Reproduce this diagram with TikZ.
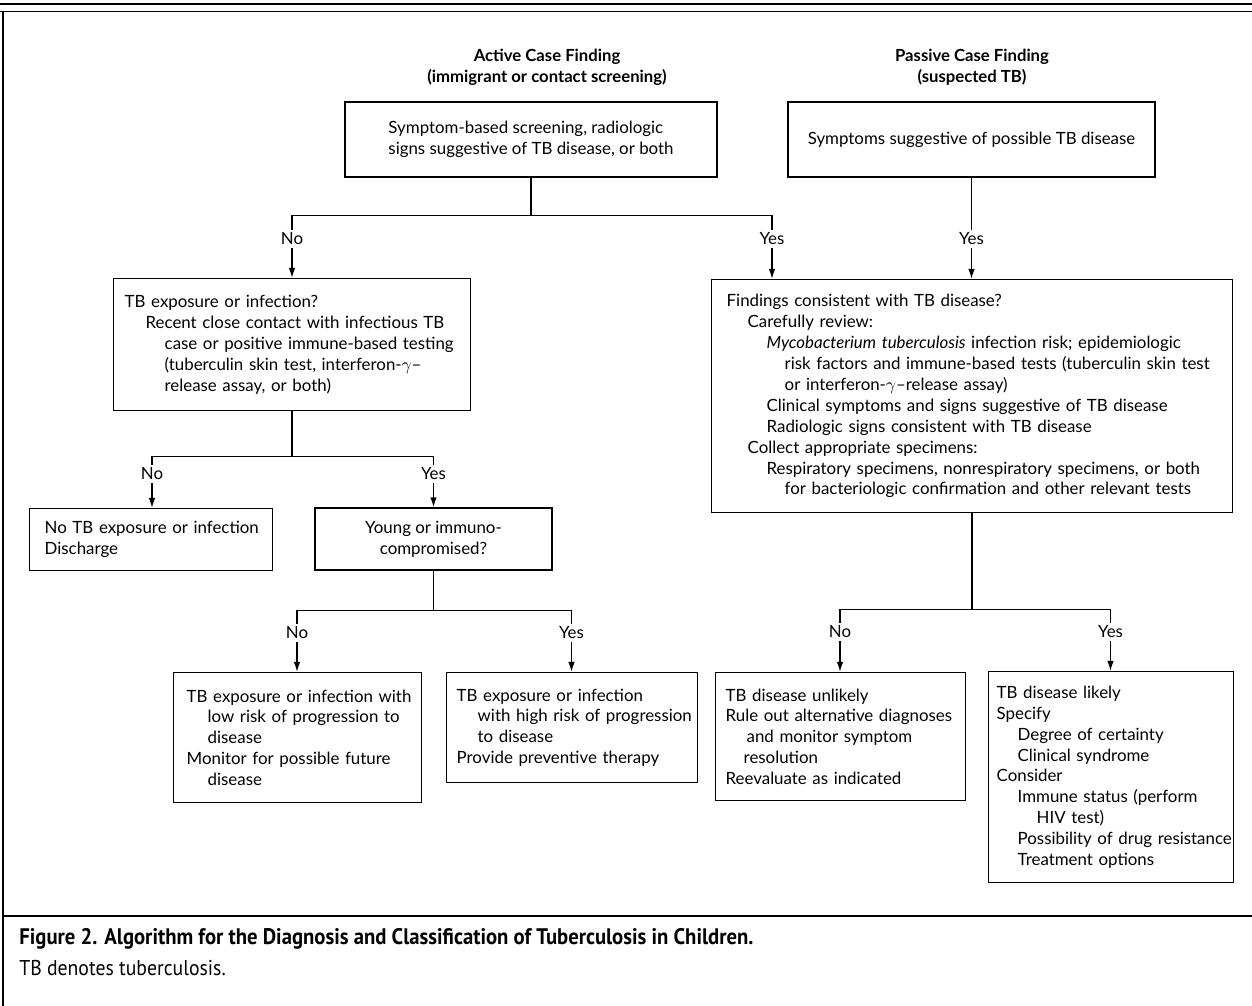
\documentclass[tikz,border=0pt]{standalone}
\usepackage{fontspec}
\setmainfont{Lato}
\newfontfamily\capfont[FakeStretch=0.92]{PT Sans}
\usetikzlibrary{positioning, arrows.meta, calc}
\newcommand{\ia}{\hspace*{0.42cm}}
\newcommand{\ib}{\hspace*{0.80cm}}
\newcommand{\ic}{\hspace*{1.16cm}}

\begin{document}
\begin{tikzpicture}[
      x=0.02cm, y=-0.02cm,
      every node/.style={font=\fontsize{9.6}{11.9}\selectfont},
      tbbox/.style={draw, line width=0.8pt, anchor=north west, align=left, inner ysep=0pt},
      cbox/.style={draw, line width=0.8pt, anchor=center, inner ysep=0pt},
      answer/.style={inner sep=1.5pt},
      head/.style={align=center, font=\fontsize{9.5}{12}\selectfont\bfseries},
      link/.style={line width=0.8pt},
      >={Latex[length=2mm,width=1.3mm]},
    ]
    \useasboundingbox (0,0) rectangle (1252,1006);

    % frame
    \draw[line width=1.6pt] (0,4) -- (1252,4);
    \draw[line width=0.9pt] (0,11.5) -- (1252,11.5);
    \draw[line width=0.9pt] (3,11.5) -- (3,1006);
    \draw[line width=0.9pt] (3,916) -- (1252,916);

    % headings
    \node[head] (active) at (547,67) {Active Case Finding\\(immigrant or contact screening)};
    \node[head] (passive) at (972,67) {Passive Case Finding\\(suspected TB)};

    % Row 1
    \node[cbox, align=left, minimum width=7.44cm, minimum height=1.5cm] (screen) at (531,139.5)
      {Symptom-based screening, radiologic\\signs suggestive of TB disease, or both};
    \node[cbox, minimum width=7.34cm, minimum height=1.5cm] (symp) at (971.5,139.5)
      {Symptoms suggestive of possible TB disease};

    \node[answer] (no1) at (292,239) {No};
    \node[answer] (yes1) at (772,239) {Yes};
    \node[answer] (yes2) at (971.5,239) {Yes};

    % Row 2
    \node[tbbox, inner xsep=0.22cm, text width=6.70cm, minimum height=2.64cm] (expo) at (113,278)
      {TB exposure or infection?\\
       \ia Recent close contact with infectious TB\\
       \ib case or positive immune-based testing\\
       \ib (tuberculin skin test, interferon-$\gamma$--\\
       \ib release assay, or both)};
    \node[tbbox, inner xsep=0.3cm, text width=9.82cm, minimum height=4.66cm] (find) at (711,279)
      {Findings consistent with TB disease?\\
       \ia Carefully review:\\
       \ib \textit{Mycobacterium tuberculosis} infection risk; epidemiologic\\
       \ic risk factors and immune-based tests (tuberculin skin test\\
       \ic or interferon-$\gamma$--release assay)\\
       \ib Clinical symptoms and signs suggestive of TB disease\\
       \ib Radiologic signs consistent with TB disease\\
       \ia Collect appropriate specimens:\\
       \ib Respiratory specimens, nonrespiratory specimens, or both\\
       \ic for bacteriologic confirmation and other relevant tests};

    \node[answer] (no2) at (152,474) {No};
    \node[answer] (yes3) at (433.5,474) {Yes};

    % Row 3
    \node[tbbox, inner xsep=0.3cm, text width=4.26cm, minimum height=1.24cm] (notb) at (29,508)
      {\mbox{No TB exposure or infection}\\Discharge};
    \node[cbox, align=center, minimum width=4.74cm, minimum height=1.24cm] (young) at (433.5,539)
      {Young or immuno-\\compromised?};

    \node[answer] (no3) at (297,633) {No};
    \node[answer] (yes4) at (571.5,633) {Yes};
    \node[answer] (no4) at (840,632) {No};
    \node[answer] (yes5) at (1110.5,632) {Yes};

    % Row 4
    \node[tbbox, inner xsep=0.26cm, text width=4.44cm, minimum height=2.6cm] (low) at (173,672)
      {\mbox{TB exposure or infection with}\\
       \ia low risk of progression to\\
       \ia disease\\
       Monitor for possible future\\
       \ia disease};
    \node[tbbox, inner xsep=0.2cm, text width=4.62cm, minimum height=2.2cm] (high) at (446,672)
      {TB exposure or infection\\
       \ia \mbox{with high risk of progression}\\
       \ia to disease\\
       Provide preventive therapy};
    \node[tbbox, inner xsep=0.2cm, text width=4.6cm, minimum height=2.56cm] (unlikely) at (715,672)
      {TB disease unlikely\\
       Rule out alternative diagnoses\\
       \ia and monitor symptom\\
       \hspace*{0.36cm}resolution\\
       Reevaluate as indicated};
    \node[tbbox, inner xsep=0.16cm, text width=4.58cm, minimum height=4.22cm] (likely) at (988,671)
      {TB disease likely\\
       Specify\\
       \ia Degree of certainty\\
       \ia Clinical syndrome\\
       Consider\\
       \ia Immune status (perform\\
       \ib HIV test)\\
       \ia \mbox{Possibility of drug resistance}\\
       \ia Treatment options};

    % caption
    \node[anchor=west, inner sep=0pt, font=\capfont\fontsize{12.8}{15}\selectfont\bfseries] (captitle) at (19,939)
      {Figure 2. Algorithm for the Diagnosis and Classification of Tuberculosis in Children.};
    \node[anchor=west, inner sep=0pt, font=\capfont\fontsize{12.2}{15}\selectfont] (capnote) at (19,968)
      {TB denotes tuberculosis.};

    % connectors
    \coordinate (j1) at ($(screen.south)+(0,38)$);
    \coordinate (j2) at ($(expo.south)+(0,45)$);
    \coordinate (j3) at ($(young.south)+(0,40)$);
    \coordinate (j4) at ($(find.south)+(0,96)$);

    \draw[link] (screen.south) -- (j1);
    \draw[link] (no1.north) |- (j1) -| (yes1.north);
    \draw[link] (symp.south) -- (yes2.north);
    \draw[link, ->] (no1.south) -- (no1.south |- expo.north);
    \draw[link, ->] (yes1.south) -- (yes1.south |- find.north);
    \draw[link, ->] (yes2.south) -- (yes2.south |- find.north);

    \draw[link] (expo.south) -- (j2);
    \draw[link] (no2.north) |- (j2) -| (yes3.north);
    \draw[link, ->] (no2.south) -- (no2.south |- notb.north);
    \draw[link, ->] (yes3.south) -- (young.north);

    \draw[link] (young.south) -- (j3);
    \draw[link] (no3.north) |- (j3) -| (yes4.north);
    \draw[link, ->] (no3.south) -- (no3.south |- low.north);
    \draw[link, ->] (yes4.south) -- (yes4.south |- high.north);

    \draw[link] (find.south) -- (j4);
    \draw[link] (no4.north) |- (j4) -| (yes5.north);
    \draw[link, ->] (no4.south) -- (no4.south |- unlikely.north);
    \draw[link, ->] (yes5.south) -- (yes5.south |- likely.north);
  \end{tikzpicture}
\end{document}
